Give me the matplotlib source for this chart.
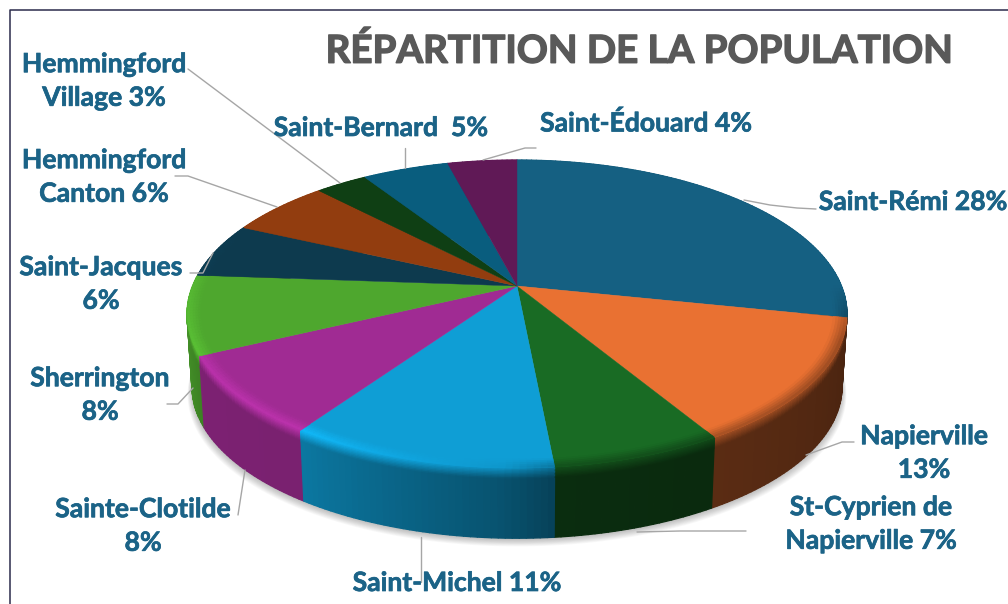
import numpy as np
import matplotlib
matplotlib.use("Agg")
import matplotlib.pyplot as plt
import matplotlib.patheffects as pe
from matplotlib.collections import PolyCollection
from matplotlib.colors import to_rgb
from matplotlib.patches import Polygon

# ---- data -----------------------------------------------------------------
categories = ["Saint-Rémi", "Napierville", "St-Cyprien de Napierville", "Saint-Michel",
              "Sainte-Clotilde", "Sherrington", "Saint-Jacques", "Hemmingford Canton",
              "Hemmingford Village", "Saint-Bernard", "Saint-Édouard"]
values = [28, 13, 7, 11, 8.2, 8.2, 5.7, 5.9, 3, 5, 4]
colors = ["#156082", "#E97132", "#196B24", "#0F9ED5", "#A02B93", "#4EA72E",
          "#0D3A4E", "#923D0F", "#0F3F14", "#095D7E", "#601956"]
label_texts = ["Saint-Rémi 28%", "Napierville\n13%", "St-Cyprien de\nNapierville 7%",
               "Saint-Michel 11%", "Sainte-Clotilde\n8%", "Sherrington\n8%",
               "Saint-Jacques\n6%", "Hemmingford\nCanton 6%", "Hemmingford\nVillage 3%",
               "Saint-Bernard  5%", "Saint-Édouard 4%"]
title = "RÉPARTITION DE LA POPULATION"

# ---- layout (pixels of the 1008x604 picture) ------------------------------
label_pos = [(913, 202), (924, 453), (871, 524), (457, 583), (143, 526), (100, 395),
             (101, 284), (104, 177), (104, 81), (381, 128), (646, 123)]
leaders = [[(744, 200), (770, 205), (797, 208), (816, 209)],
           [(806, 455), (842, 442), (854, 442)],
           [(637, 532), (680, 531), (746, 531)],
           [(421, 537), (421, 582)],
           [(245, 470), (238, 515)],
           [(193, 388), (178, 404), (167, 404)],
           [(213, 253), (203, 273), (190, 273)],
           [(277, 207), (188, 176), (175, 176)],
           [(340, 183), (188, 69)],
           [(405, 168), (405, 148)],
           [(483, 160), (504, 154), (525, 148), (536, 148)]]
CX, CY, A, B, K, DEPTH, SHRINK = 517, 286, 148.9, 324.5, 0.1818, 73, 0.015


def project(r, theta_deg, t=0.0):
    th = np.radians(theta_deg)
    x, y = r * np.sin(th), r * np.cos(th)
    w = 1 + K * y
    s = 1 - SHRINK * t
    return CX + s * B * x / w, CY - s * A * y / w + DEPTH * t


def shade(col, m):
    return tuple(min(1.0, c * m) for c in col)


side_th = [90, 105, 150, 175, 182, 215, 245, 270, 300]
side_m = [.30, .32, .39, .42, .52, .76, .78, .95, .95]
rim_th = [90, 100, 110, 150, 175, 182, 215, 245, 270, 300]
rim_m = [1.0, .8, .65, .7, .75, .95, 1.18, 1.16, 1.1, 1.0]

fig = plt.figure(figsize=(10.08, 6.04), dpi=100, facecolor="white")
ax = fig.add_axes([0, 0, 1, 1])
ax.set_xlim(0, 1008)
ax.set_ylim(604, 0)
ax.axis("off")

# frame of the screenshot
ax.plot([9.5, 9.5, 1008], [604, 9.5, 9.5], color="#2B2B4B", lw=1.1, zorder=1)

edges = np.concatenate([[0], np.cumsum(values)]) / np.sum(values) * 360

# soft shadow beneath the disc
circle = np.linspace(0, 360, 361)
for i in range(10):
    sx, sy = project(1.0, circle, 1.0)
    sx = CX + (sx - CX) * (1 + .0015 * i)
    ax.add_patch(Polygon(np.c_[sx, sy + 1 + i * .8], closed=True, fc="#000000", ec="none",
                         alpha=.028, zorder=2))

# side wall and bevel
quads, qcols, order = [], [], []
ts = np.r_[np.linspace(0, .16, 9), 1.0]
for v0, v1, c in zip(edges[:-1], edges[1:], colors):
    base = to_rgb(c)
    n = max(2, int((v1 - v0) / 1.0))
    th = np.linspace(v0, v1, n + 1)
    for a0, a1 in zip(th[:-1], th[1:]):
        am = (a0 + a1) / 2
        m = np.interp(am, side_th, side_m)
        h = np.interp(am, rim_th, rim_m)
        for t0, t1 in zip(ts[:-1], ts[1:]):
            f = min(1, ((t0 + t1) / 2) / .16)
            mm = h + (m - h) * f
            xa0, ya0 = project(1, a0, t0)
            xa1, ya1 = project(1, a1, t0)
            xb1, yb1 = project(1, a1, t1)
            xb0, yb0 = project(1, a0, t1)
            quads.append([(xa0, ya0), (xa1, ya1), (xb1, yb1), (xb0, yb0)])
            qcols.append(shade(base, mm))
            order.append(ya0)
idx = np.argsort(order)
ax.add_collection(PolyCollection([quads[i] for i in idx], facecolors=[qcols[i] for i in idx],
                                 edgecolors=[qcols[i] for i in idx], linewidths=.9, zorder=3))

# top face
for v0, v1, c in zip(edges[:-1], edges[1:], colors):
    th = np.linspace(v0, v1, max(3, int(v1 - v0) * 2))
    px, py = project(1, th)
    ax.add_patch(Polygon(np.r_[[(CX, CY)], np.c_[px, py]], closed=True, fc=c, ec=c, lw=.3, zorder=4))

# bevel along the front rim of the top face
quads, qcols = [], []
rs = np.linspace(.96, 1, 6)
for v0, v1, c in zip(edges[:-1], edges[1:], colors):
    base = to_rgb(c)
    lo, hi = max(v0, 90), min(v1, 290)
    if hi <= lo:
        continue
    th = np.linspace(lo, hi, max(2, int(hi - lo)) + 1)
    for a0, a1 in zip(th[:-1], th[1:]):
        h = np.interp((a0 + a1) / 2, rim_th, rim_m)
        for r0, r1 in zip(rs[:-1], rs[1:]):
            f = ((r0 + r1) / 2 - rs[0]) / (rs[-1] - rs[0])
            mm = 1 + (h - 1) * f
            pts = [project(r0, a0), project(r0, a1), project(r1, a1), project(r1, a0)]
            quads.append(pts)
            qcols.append(shade(base, mm))
ax.add_collection(PolyCollection(quads, facecolors=qcols, edgecolors=qcols, linewidths=.5, zorder=5))

# leader lines
for pts in leaders:
    xs, ys = zip(*pts)
    ax.plot(xs, ys, color="#A6A6A6", lw=1.0, zorder=6, solid_capstyle="round")

# labels
for txt, (x, y) in zip(label_texts, label_pos):
    ax.text(x, y, txt, ha="center", va="center", family=["Lato", "DejaVu Sans"], weight="bold",
            fontsize=19.1, color="#1B6387", linespacing=1.48, zorder=7,
            path_effects=[pe.withStroke(linewidth=.5, foreground="#1B6387")])

ax.text(640, 51, title, ha="center", va="center", family=["Lato", "DejaVu Sans"],
        weight="bold", fontsize=27.7, color="#595959", zorder=7,
        path_effects=[pe.withStroke(linewidth=1.0, foreground="#595959")])

fig.savefig("out.png", dpi=100, facecolor="white")
